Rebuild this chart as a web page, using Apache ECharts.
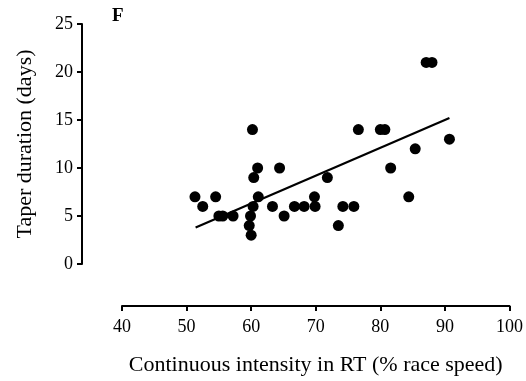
<!DOCTYPE html>
<html>
<head>
<meta charset="utf-8">
<script src="https://cdn.jsdelivr.net/npm/echarts@6/dist/echarts.min.js"></script>
<style>html,body{margin:0;padding:0;background:#fff;}#c{width:526px;height:381px;}</style>
</head>
<body>
<div id="c"></div>
<script>
var intensity = [51.3, 52.5, 54.5, 55.0, 55.6, 57.2, 59.7, 60.0, 59.9, 60.3, 61.1, 60.4, 61.0, 60.2, 63.3, 64.4, 65.1, 66.7, 68.2, 69.8, 69.9, 71.8, 73.5, 74.2, 75.9, 76.6, 80.0, 80.7, 81.6, 84.4, 85.4, 87.1, 88.0, 90.7];
var taper =     [7,    6,    7,    5,    5,    5,    4,    3,    5,    6,    7,    9,    10,   14,   6,    10,   5,    6,    6,    7,    6,    9,    4,    6,    6,    14,   14,   14,   10,   7,    12,   21,   21,   13];
var fitX = [51.4, 90.7];
var fitY = [3.8, 15.2];
var xTicks = [40, 50, 60, 70, 80, 90, 100];
var yTicks = [0, 5, 10, 15, 20, 25];
var panelLabel = 'F';
var xTitle = 'Continuous intensity in RT (% race speed)';
var yTitle = 'Taper duration (days)';

var pts = intensity.map(function(v, i){ return [v, taper[i]]; });
var fit = fitX.map(function(v, i){ return [v, fitY[i]]; });
var serif = '"Liberation Serif", "DejaVu Serif", serif';
var chart = echarts.init(document.getElementById('c'));
chart.setOption({
  animation: false,
  backgroundColor: '#fff',
  grid: {left: 122, right: 15, top: 24, bottom: 113},
  title: {text: panelLabel, left: 107, top: 2, textStyle: {fontFamily: serif, fontWeight: 'bold', fontSize: 19, color: '#000'}},
  xAxis: {
    type: 'value', min: xTicks[0], max: xTicks[xTicks.length-1], interval: 10, offset: 42,
    name: xTitle, nameLocation: 'middle', nameGap: 48,
    nameTextStyle: {fontFamily: serif, fontSize: 22, color: '#000'},
    axisLine: {show: true, onZero: false, lineStyle: {color: '#000', width: 2}},
    axisTick: {show: true, length: 5, lineStyle: {color: '#000', width: 2}},
    axisLabel: {fontFamily: serif, fontSize: 18, color: '#000', margin: 12},
    splitLine: {show: false}
  },
  yAxis: {
    type: 'value', min: yTicks[0], max: yTicks[yTicks.length-1], interval: 5, offset: 40,
    name: yTitle, nameLocation: 'middle', nameGap: 46,
    nameTextStyle: {fontFamily: serif, fontSize: 22, color: '#000'},
    axisLine: {show: true, onZero: false, lineStyle: {color: '#000', width: 2}},
    axisTick: {show: true, length: 5, lineStyle: {color: '#000', width: 2}},
    axisLabel: {fontFamily: serif, fontSize: 18, color: '#000', margin: 9},
    splitLine: {show: false}
  },
  series: [
    {type: 'scatter', data: pts, symbolSize: 11, itemStyle: {color: '#000', opacity: 1}, z: 3},
    {type: 'line', data: fit, symbol: 'none', lineStyle: {color: '#000', width: 2.2}, z: 2}
  ]
});
</script>
</body>
</html>
